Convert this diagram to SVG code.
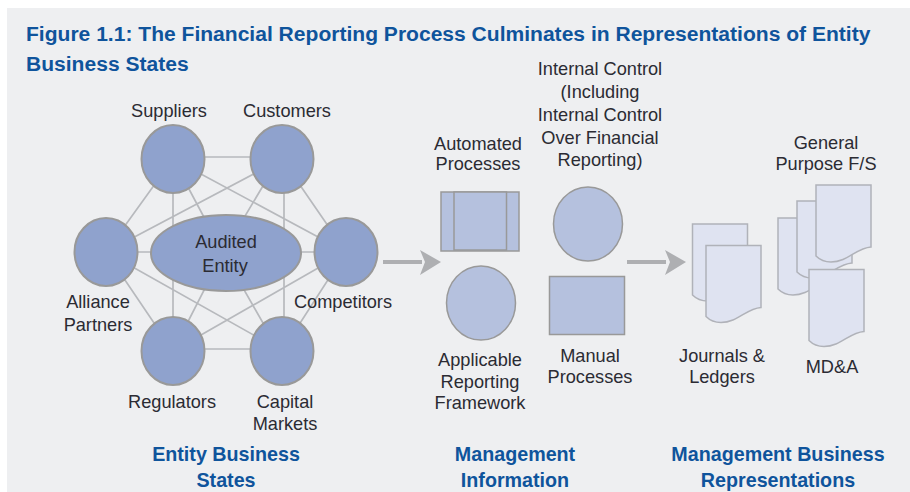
<svg xmlns="http://www.w3.org/2000/svg" width="910" height="492" viewBox="0 0 910 492">
<defs>
<path id="doc" d="M0 0H55V62C40 63 32 77 15 77C9 77 3 74 0 71Z"/>
</defs>
<style>
text{font-family:"Liberation Sans",Arial,sans-serif;font-size:18.200px;fill:#2b2b33;text-anchor:middle}
.title{font-size:21.050px;font-weight:bold;fill:#0f549c;text-anchor:start}
.head{font-size:19.700px;font-weight:bold;fill:#0f549c}
.n{fill:#8fa2cd;stroke:#999;stroke-width:2}
.l{fill:#b5c1de;stroke:#999;stroke-width:1.500}
.d{fill:#dfe3f1;stroke:#b0b2b9;stroke-width:1.500}
.c{stroke:#b7b9bd;stroke-width:1.700;fill:none}
.a{stroke:#aeafb2;stroke-width:4;fill:none}
.h{fill:#aeafb2}
</style>
<rect x="7" y="8" width="903" height="484" fill="#eeeff1"/>
<g id="title"><text class="title" x="26" y="41">Figure 1.1: The Financial Reporting Process Culminates in Representations of Entity</text>
<text class="title" x="26" y="71">Business States</text></g>
<g id="connectors">
<path class="c" d="M173 157H282M173 349H282M173 159V351M284 159V351M106 252H346M173 159L106 252M282 159L346 252M106 252L173 351M346 252L282 351M173 159L346 252M282 159L106 252M106 252L282 351M346 252L173 351M173 159L223 253L279 159M173 351L223 253L279 351"/>
<path class="a" d="M383 262H422M627 262H666"/>
<path class="h" d="M420 250L441 262L420 275L425 262Z"/>
<path class="h" d="M665 250L686 262L665 275L670 262Z"/>
</g>
<g id="suppliers"><ellipse class="n" cx="173" cy="159" rx="31.500" ry="34"/><text x="169" y="117">Suppliers</text></g>
<g id="customers"><ellipse class="n" cx="282" cy="159" rx="31.500" ry="34"/><text x="287" y="117">Customers</text></g>
<g id="alliance"><ellipse class="n" cx="106" cy="252" rx="31.500" ry="34"/><text x="98" y="308">Alliance</text><text x="98" y="331">Partners</text></g>
<g id="competitors"><ellipse class="n" cx="346" cy="252" rx="31.500" ry="34"/><text x="343" y="308">Competitors</text></g>
<g id="regulators"><ellipse class="n" cx="173" cy="351" rx="31.500" ry="34"/><text x="172" y="408">Regulators</text></g>
<g id="capital"><ellipse class="n" cx="282" cy="351" rx="31.500" ry="34"/><text x="285" y="408">Capital</text><text x="285" y="430">Markets</text></g>
<g id="entity"><ellipse class="n" cx="226" cy="253" rx="75" ry="38"/><text x="226" y="248">Audited</text><text x="225" y="272">Entity</text></g>
<g id="automated"><rect class="l" x="441" y="192" width="78" height="59"/><rect class="l" x="454" y="192" width="52.500" height="58"/><text x="478" y="150">Automated</text><text x="478" y="170">Processes</text></g>
<g id="control"><ellipse class="l" cx="588" cy="224" rx="34.500" ry="37"/>
<text x="600" y="75">Internal Control</text><text x="600" y="98">(Including</text><text x="600" y="121">Internal Control</text><text x="600" y="144">Over Financial</text><text x="600" y="166">Reporting)</text></g>
<g id="framework"><ellipse class="l" cx="481" cy="303" rx="34.500" ry="37"/><text x="480" y="366">Applicable</text><text x="480" y="388">Reporting</text><text x="480" y="409">Framework</text></g>
<g id="manual"><rect class="l" x="549.500" y="276.500" width="75" height="58"/><text x="590" y="362">Manual</text><text x="590" y="383">Processes</text></g>
<g id="journals"><use class="d" href="#doc" x="692.500" y="224"/><use class="d" href="#doc" x="706" y="245.500"/><text x="722" y="362">Journals &amp;</text><text x="722" y="383">Ledgers</text></g>
<g id="fs"><use class="d" href="#doc" x="778" y="218"/><use class="d" href="#doc" x="797" y="201"/><use class="d" href="#doc" x="816" y="185"/><text x="826" y="149">General</text><text x="826" y="170">Purpose F/S</text></g>
<g id="mda"><use class="d" href="#doc" x="809" y="269.500"/><text x="832" y="373">MD&amp;A</text></g>
<g id="heads"><text class="head" x="226" y="461">Entity Business</text><text class="head" x="226" y="487">States</text>
<text class="head" x="515" y="461">Management</text><text class="head" x="515" y="487">Information</text>
<text class="head" x="778" y="461">Management Business</text><text class="head" x="778" y="487">Representations</text></g>
</svg>
